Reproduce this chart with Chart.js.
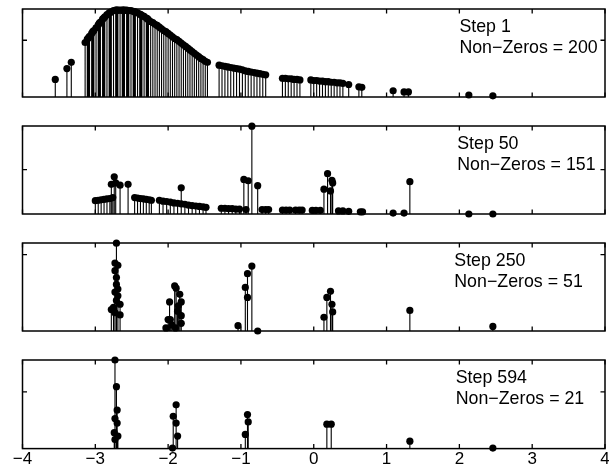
<!DOCTYPE html>
<html>
<head>
<meta charset="utf-8">
<script src="https://cdn.jsdelivr.net/npm/chart.js@4.4.0/dist/chart.umd.min.js"></script>
<style>
  body { margin: 0; background: #fff; }
  #wrap { position: relative; width: 609px; height: 472px; }
  #wrap canvas { position: absolute; left: 0; }
</style>
</head>
<body>
<div id="wrap">
  <canvas id="p1"></canvas>
  <canvas id="p2"></canvas>
  <canvas id="p3"></canvas>
  <canvas id="p4"></canvas>
</div>
<script>
// ---- data (y in units of the single y tick) ----
const xTickLabels = ['\u22124', '\u22123', '\u22122', '\u22121', '0', '1', '2', '3', '4'];
const stepNumbers = [1, 50, 250, 594];
const nonZeroCounts = [200, 151, 51, 21];
const yMaxes = [1.55, 1.985, 1.152, 1.56];

const step1X = [-3.55, -3.39, -3.33,
  -3.14, -3.11, -3.08, -3.05, -3.02, -2.99, -2.96, -2.93, -2.90, -2.87, -2.84, -2.81, -2.78, -2.75,
  -2.72, -2.69, -2.66, -2.63, -2.60, -2.57, -2.54, -2.51, -2.48, -2.45, -2.42, -2.39, -2.36, -2.33,
  -2.30, -2.27, -2.24, -2.21, -2.18, -2.15, -2.12, -2.09, -2.06, -2.03, -2.00, -1.97, -1.94, -1.91,
  -1.88, -1.85, -1.82, -1.79, -1.76, -1.73, -1.70, -1.67, -1.64, -1.61, -1.58, -1.55, -1.52, -1.49, -1.46,
  -3.095, -3.035, -2.945, -2.885, -2.795, -2.705, -2.615, -2.555, -2.465, -2.375, -2.285,
  -1.30, -1.26, -1.22, -1.18, -1.14, -1.10, -1.06, -1.02, -0.98, -0.94, -0.90, -0.86, -0.82, -0.78, -0.74, -0.70, -0.66,
  -0.43, -0.39, -0.35, -0.31, -0.27, -0.23, -0.19,
  -0.04, 0.00, 0.04, 0.08, 0.12, 0.16, 0.20, 0.24, 0.28, 0.32, 0.36, 0.40, 0.48,
  0.62, 0.66, 1.09, 1.24, 1.30, 2.13, 2.46];
const step1Y = [0.31, 0.50, 0.61,
  0.96, 1.02, 1.07, 1.12, 1.17, 1.22, 1.27, 1.32, 1.37, 1.41, 1.45, 1.48, 1.50, 1.52,
  1.53, 1.53, 1.53, 1.53, 1.53, 1.53, 1.52, 1.52, 1.51, 1.50, 1.48, 1.46, 1.44, 1.42,
  1.39, 1.36, 1.33, 1.31, 1.28, 1.26, 1.23, 1.20, 1.17, 1.15, 1.12, 1.09, 1.06, 1.03,
  1.01, 0.98, 0.95, 0.92, 0.89, 0.86, 0.83, 0.80, 0.77, 0.74, 0.71, 0.68, 0.66, 0.63, 0.61,
  1.04, 1.15, 1.30, 1.39, 1.49, 1.53, 1.53, 1.52, 1.50, 1.45, 1.38,
  0.56, 0.55, 0.54, 0.53, 0.52, 0.51, 0.50, 0.49, 0.48, 0.46, 0.45, 0.44, 0.43, 0.42, 0.41, 0.40, 0.39,
  0.33, 0.33, 0.32, 0.32, 0.31, 0.31, 0.30,
  0.30, 0.29, 0.29, 0.28, 0.28, 0.27, 0.27, 0.26, 0.26, 0.25, 0.25, 0.24, 0.22,
  0.18, 0.17, 0.11, 0.09, 0.09, 0.035, 0.02];

const step50X = [-3.00, -2.96, -2.92, -2.88, -2.84, -2.80, -2.76,
  -2.78, -2.74, -2.72, -2.66, -2.55,
  -2.46, -2.42, -2.38, -2.34, -2.30, -2.26, -2.23,
  -2.12, -2.07, -2.02, -1.97, -1.92, -1.87, -1.82, -1.77, -1.72, -1.67, -1.62, -1.57, -1.52, -1.48,
  -1.82,
  -1.27, -1.22, -1.17, -1.12, -1.07, -1.02, -0.93,
  -0.85, -0.96, -0.90, -0.77,
  -0.71, -0.66, -0.62,
  -0.43, -0.38, -0.33, -0.25, -0.20, -0.16,
  -0.02, 0.03, 0.09,
  0.19, 0.14, 0.25, 0.26, 0.23,
  0.34, 0.40, 0.48, 0.64, 0.67,
  1.09, 1.24, 1.32, 2.13, 2.46];
const step50Y = [0.30, 0.31, 0.32, 0.33, 0.34, 0.35, 0.37,
  0.67, 0.84, 0.70, 0.65, 0.67,
  0.37, 0.36, 0.35, 0.34, 0.33, 0.32, 0.31,
  0.31, 0.29, 0.28, 0.27, 0.25, 0.24, 0.23, 0.22, 0.20, 0.19, 0.18, 0.17, 0.16, 0.15,
  0.59,
  0.13, 0.13, 0.12, 0.12, 0.11, 0.11, 0.10,
  1.98, 0.78, 0.75, 0.64,
  0.10, 0.10, 0.10,
  0.09, 0.09, 0.09, 0.09, 0.09, 0.09,
  0.08, 0.08, 0.08,
  0.91, 0.56, 0.76, 0.70, 0.52,
  0.07, 0.07, 0.06, 0.05, 0.05,
  0.02, 0.02, 0.73, 0.0, 0.0];

const step250X = [-2.71, -2.73, -2.69, -2.73, -2.71, -2.71, -2.69, -2.73, -2.69, -2.71, -2.66, -2.75, -2.78, -2.73, -2.66,
  -1.91, -1.89, -1.98, -1.82, -1.84, -1.86, -1.87, -1.82, -2.00, -1.97, -1.82, -1.95, -2.03, -1.90,
  -0.85, -0.91, -0.94, -0.91, -1.04, -0.77,
  0.23, 0.18, 0.25, 0.26, 0.14,
  1.32, 2.46];
const step250Y = [1.15, 0.89, 0.86, 0.79, 0.70, 0.61, 0.55, 0.51, 0.46, 0.40, 0.35, 0.31, 0.28, 0.24, 0.21,
  0.59, 0.56, 0.38, 0.38, 0.48, 0.33, 0.26, 0.20, 0.15, 0.15, 0.10, 0.08, 0.04, 0.04,
  0.85, 0.75, 0.57, 0.44, 0.07, 0.0,
  0.52, 0.44, 0.35, 0.25, 0.18,
  0.27, 0.06];

const step594X = [-2.73, -2.71, -2.70, -2.73, -2.70, -2.74, -2.69, -2.73,
  -1.89, -1.93, -1.89, -1.87, -1.94,
  -0.91, -0.90, -0.94,
  0.18, 0.24, 1.32, 2.46];
const step594Y = [1.56, 1.09, 0.68, 0.53, 0.45, 0.28, 0.22, 0.16,
  0.77, 0.57, 0.45, 0.22, 0.01,
  0.60, 0.47, 0.25,
  0.43, 0.43, 0.13, 0.01];

const panelXs = [step1X, step50X, step250X, step594X];
const panelYs = [step1Y, step50Y, step250Y, step594Y];
const annotX = [2.0, 1.97, 1.93, 1.95];

// ---- layout of the four panels (pixels) ----
const frameTops = [9, 125.7, 243.3, 360];
const frameBottoms = [97, 214, 331.7, 448.3];
const FONT = '"Liberation Sans", Arial, Helvetica, sans-serif';

// frame, inward ticks and the "Step" text of each panel
const stemFrame = {
  id: 'stemFrame',
  beforeDatasetsDraw(chart, args, opts) {
    const { ctx, chartArea: a, scales: { x, y } } = chart;
    ctx.save();
    ctx.strokeStyle = '#000';
    ctx.lineWidth = 1.5;
    ctx.strokeRect(a.left, a.top, a.width, a.height);
    ctx.lineWidth = 1.3;
    ctx.beginPath();
    x.ticks.forEach(t => {
      const px = x.getPixelForValue(t.value);
      ctx.moveTo(px, a.bottom); ctx.lineTo(px, a.bottom - 4.5);
      ctx.moveTo(px, a.top); ctx.lineTo(px, a.top + 4.5);
    });
    const py = y.getPixelForValue(1);
    ctx.moveTo(a.left, py); ctx.lineTo(a.left + 4.5, py);
    ctx.moveTo(a.right, py); ctx.lineTo(a.right - 4.5, py);
    ctx.stroke();
    ctx.restore();
  },
  afterDatasetsDraw(chart, args, opts) {
    const { ctx, chartArea: a, scales: { x } } = chart;
    ctx.save();
    ctx.fillStyle = '#000';
    ctx.font = '17.8px ' + FONT;
    ctx.textBaseline = 'alphabetic';
    const tx = x.getPixelForValue(annotX[opts.idx]);
    ctx.fillText('Step ' + stepNumbers[opts.idx], tx, a.top + 23);
    ctx.fillText('Non\u2212Zeros = ' + nonZeroCounts[opts.idx], tx, a.top + 44);
    ctx.restore();
  }
};

function makePanel(i) {
  const xs = panelXs[i], ys = panelYs[i];
  const last = i === 3;
  const canvasTop = frameTops[i] - 18;
  const canvasBottom = last ? 472 : frameBottoms[i] + 9;
  const el = document.getElementById('p' + (i + 1));
  el.width = 609;
  el.height = Math.round(canvasBottom - canvasTop);
  el.style.top = canvasTop + 'px';

  const points = xs.map((v, k) => ({ x: v, y: ys[k] }));
  const stems = [];
  xs.forEach((v, k) => { stems.push({ x: v, y: 0 }, { x: v, y: ys[k] }, { x: v, y: null }); });

  new Chart(el, {
    type: 'scatter',
    data: {
      datasets: [{
        data: points,
        pointRadius: 3.6,
        pointBackgroundColor: '#000',
        pointBorderWidth: 0,
        clip: false
      }, {
        type: 'line',
        data: stems,
        borderColor: '#000',
        borderWidth: 1.1,
        pointRadius: 0,
        spanGaps: false,
        fill: false,
        clip: false
      }]
    },
    options: {
      responsive: false,
      animation: false,
      events: [],
      layout: { padding: { left: 22.5, right: 2.3, top: 18, bottom: last ? 1 : 9 } },
      plugins: { legend: { display: false }, tooltip: { enabled: false }, stemFrame: { idx: i } },
      scales: {
        x: {
          type: 'linear', min: -4, max: 4,
          display: last,
          grid: { display: false, drawTicks: false },
          border: { display: false },
          ticks: {
            stepSize: 1, autoSkip: false, maxRotation: 0, padding: 1,
            color: '#000', font: { family: FONT, size: 17 },
            callback: (v, idx) => xTickLabels[idx]
          },
          afterFit: s => { s.paddingLeft = 0; s.paddingRight = 0; }
        },
        y: { min: 0, max: yMaxes[i], display: false }
      }
    },
    plugins: [stemFrame]
  });
}

[0, 1, 2, 3].forEach(makePanel);
</script>
</body>
</html>
